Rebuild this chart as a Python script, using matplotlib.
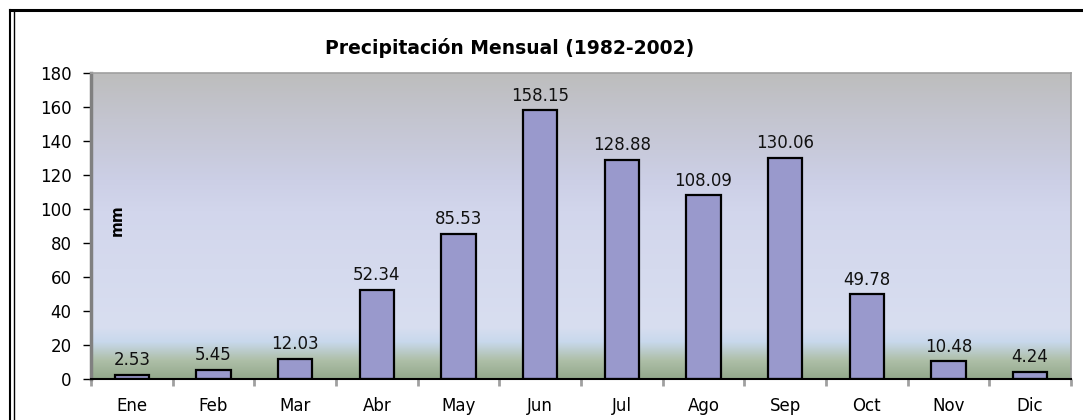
import numpy as np
import matplotlib.pyplot as plt
from matplotlib.colors import LinearSegmentedColormap
from matplotlib.lines import Line2D

plt.rcParams['font.family'] = ['DejaVu Sans']

meses = ['Ene', 'Feb', 'Mar', 'Abr', 'May', 'Jun', 'Jul', 'Ago', 'Sep', 'Oct', 'Nov', 'Dic']
precip = [2.53, 5.45, 12.03, 52.34, 85.53, 158.15, 128.88, 108.09, 130.06, 49.78, 10.48, 4.24]
yticks = [0, 20, 40, 60, 80, 100, 120, 140, 160, 180]

W, H = 1083, 420
fig = plt.figure(figsize=(W / 100, H / 100), dpi=100)
fig.patch.set_facecolor('white')

ax = fig.add_axes([91 / W, 1 - 379 / H, 980 / W, 306 / H])

# fondo degradado tipo Excel
stops = [(0.0, '#93a98c'), (0.06, '#aebfa8'), (0.12, '#c8d8ec'),
         (0.17, '#d8def0'), (0.55, '#d2d6ec'), (0.65, '#cccfe6'),
         (0.85, '#c4c5d0'), (1.0, '#bdbdbd')]
cmap = LinearSegmentedColormap.from_list('fondo', stops)
grad = np.linspace(0, 1, 256).reshape(-1, 1)
ax.imshow(grad, cmap=cmap, aspect='auto', origin='lower',
          extent=[-0.5, 11.5, 0, 180], zorder=0)

x = np.arange(len(meses))
ax.bar(x, precip, width=0.42, color='#9999cc', edgecolor='black', linewidth=1.6, zorder=2)
for xi, v in zip(x, precip):
    ax.annotate(f'{v:.2f}', (xi, v), xytext=(0, 4), textcoords='offset points',
                ha='center', va='bottom', fontsize=12, color='#111111')

ax.set_xlim(-0.5, 11.5)
ax.set_ylim(0, 180)
ax.set_yticks(yticks)
ax.set_xticks(x)
ax.set_xticklabels(meses)
ax.tick_params(axis='y', length=6, width=1, color='black', labelsize=12, pad=8)
ax.tick_params(axis='x', length=0, labelsize=12, pad=13)
# marcas entre categorias
ax.set_xticks(np.arange(-0.5, 12, 1), minor=True)
ax.tick_params(axis='x', which='minor', length=5, width=2, color='#a0a0a0')

for s in ['top', 'right']:
    ax.spines[s].set_color('#a0a0a0')
    ax.spines[s].set_linewidth(1.2)
ax.spines['left'].set_color('#808080')
ax.spines['left'].set_linewidth(2.5)
ax.spines['bottom'].set_color('black')
ax.spines['bottom'].set_linewidth(1.5)

ax.text(0.027, 0.52, 'mm', transform=ax.transAxes, rotation=90,
        ha='center', va='center', fontsize=11, fontweight='bold')

fig.text(510 / W, 1 - 48 / H, 'Precipitación Mensual (1982-2002)',
         ha='center', va='center', fontsize=13.5, fontweight='bold')

# marco exterior
fig.add_artist(Line2D([10 / W, 1], [1 - 10 / H, 1 - 10 / H], color='black', lw=2.2))
fig.add_artist(Line2D([10 / W, 10 / W], [0, 1 - 10 / H], color='black', lw=1.5))
fig.add_artist(Line2D([13.5 / W, 13.5 / W], [0, 1 - 12 / H], color='black', lw=1.0))

fig.savefig('out.png', dpi=100)
